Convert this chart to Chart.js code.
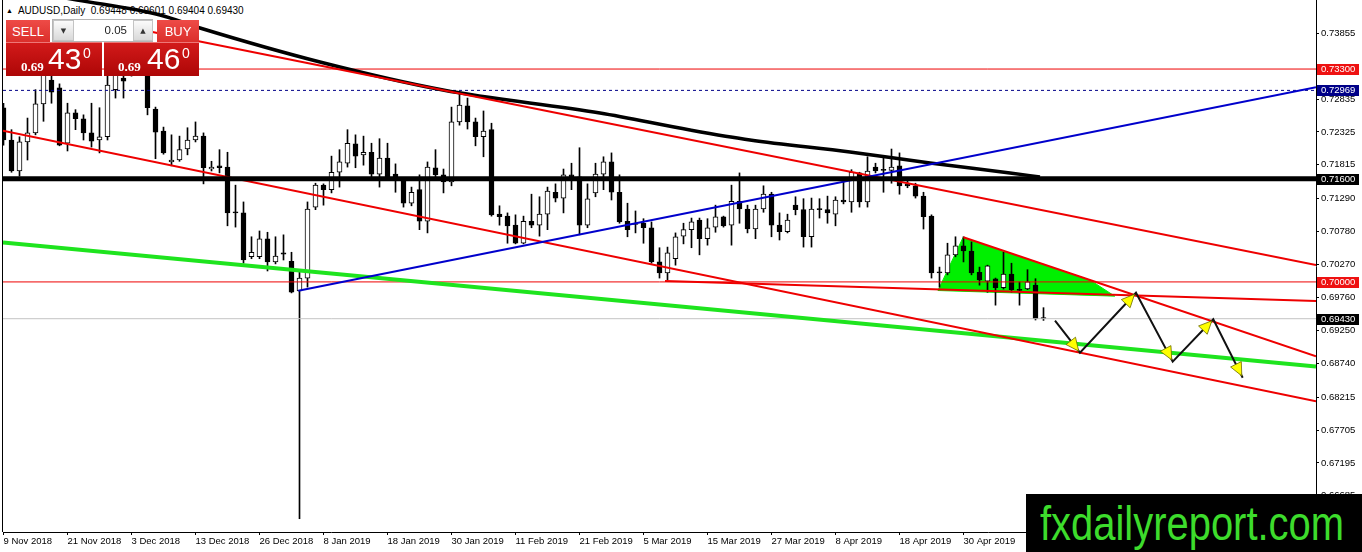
<!DOCTYPE html>
<html><head><meta charset="utf-8">
<script src="https://cdn.jsdelivr.net/npm/chart.js@4.4.1/dist/chart.umd.min.js"></script>
<style>
html,body{margin:0;padding:0;background:#fff;overflow:hidden;}
#wrap{position:relative;width:1362px;height:552px;}
#hdr{position:absolute;left:6px;top:3.5px;font:10px "Liberation Sans",Arial,sans-serif;color:#000;white-space:nowrap;z-index:0;line-height:14px;}
#hdr .tri{font-size:7px;margin-right:5px;position:relative;top:-1px;}
#c{position:absolute;left:0;top:0;z-index:1;}
#panel{position:absolute;left:0;top:0;z-index:2;}
.bx{position:absolute;box-sizing:border-box;}
.btn{background:linear-gradient(#ee4b47,#db2f2b);color:#fff;font:13px "Liberation Sans Narrow","Liberation Sans",sans-serif;display:flex;align-items:center;justify-content:center;}
.price{background:linear-gradient(#d21a1a,#ad0606);color:#fff;border-top:1px solid #e77;}
.price span{position:absolute;white-space:nowrap;}
.p1{font:bold 13px "Liberation Serif",serif;line-height:13px;}
.p2{font:30px "Liberation Sans",sans-serif;line-height:30px;}
.p3{font:14px "Liberation Sans",sans-serif;line-height:14px;}
.lot{background:#eee;border:1px solid #b5b5b5;}
.arr{background:linear-gradient(#fbfbfb,#d9d9d9);border:1px solid #c4c4c4;font:7px "DejaVu Sans",sans-serif;color:#333;display:flex;align-items:center;justify-content:center;}
.fld{background:#fff;font:11.5px "Liberation Sans",sans-serif;color:#222;text-align:right;padding-right:6px;line-height:21px;}
#wm{position:absolute;left:1026px;top:494px;width:336px;height:58px;background:#000;z-index:3;overflow:hidden;}
#wmt{position:absolute;left:14px;top:6.4px;font:48px "Liberation Sans Narrow","Liberation Sans",sans-serif;line-height:48px;color:#3ddc2c;white-space:nowrap;transform-origin:0 0;display:inline-block;}
</style></head>
<body><div id="wrap">
<div id="hdr"><span class="tri">▲</span>AUDUSD,Daily&nbsp; 0.69448 0.69601 0.69404 0.69430</div>
<canvas id="c" width="1362" height="552"></canvas>
<div id="panel">
  <div class="bx btn" style="left:6px;top:20px;width:44px;height:22px;">SELL</div>
  <div class="bx lot" style="left:52px;top:19px;width:101px;height:23px;"></div>
  <div class="bx arr" style="left:53px;top:20px;width:21px;height:21px;">▼</div>
  <div class="bx fld" style="left:74px;top:20px;width:59px;height:21px;">0.05</div>
  <div class="bx arr" style="left:133px;top:20px;width:20px;height:21px;">▲</div>
  <div class="bx btn" style="left:157px;top:20px;width:42px;height:22px;">BUY</div>
  <div class="bx price" style="left:6px;top:42px;width:96px;height:34px;">
    <span class="p1" style="left:15px;top:16.5px;">0.69</span>
    <span class="p2" style="left:42px;top:0.5px;">43</span>
    <span class="p3" style="left:77px;top:2.5px;">0</span>
  </div>
  <div class="bx price" style="left:104px;top:42px;width:95px;height:34px;">
    <span class="p1" style="left:14px;top:16.5px;">0.69</span>
    <span class="p2" style="left:43px;top:0.5px;">46</span>
    <span class="p3" style="left:78px;top:2.5px;">0</span>
  </div>
</div>
<div id="wm"><span id="wmt">fxdailyreport.com</span></div>
</div>
<script>
// ---------- data ----------
const xTickIdx = [0,8,16,24,32,40,48,56,64,72,80,88,96,104,112,120];
const xTickLabels = ["9 Nov 2018","21 Nov 2018","3 Dec 2018","13 Dec 2018","26 Dec 2018","8 Jan 2019","18 Jan 2019","30 Jan 2019","11 Feb 2019","21 Feb 2019","5 Mar 2019","15 Mar 2019","27 Mar 2019","8 Apr 2019","18 Apr 2019","30 Apr 2019"];
const yTicks = [0.73855,0.72835,0.72325,0.71815,0.71290,0.70780,0.70270,0.69760,0.69250,0.68740,0.68215,0.67705,0.67195,0.66685];

const opens = [.7270,.7220,.7172,.7217,.7231,.7276,.7313,.7301,.7215,.7262,.7253,.7231,.7220,.7225,.7298,.7316,.7329,.7350,.7332,.7268,
.7234,.7186,.7189,.7206,.7220,.7226,.7175,.7180,.7178,.7108,.7107,.7039,.7039,.7067,.7031,.7045,.7032,.6986,.7006,.7116,
.7150,.7143,.7170,.7184,.7214,.7197,.7201,.7167,.7192,.7167,.7158,.7122,.7143,.7094,.7177,.7166,.7155,.7248,.7273,.7248,
.7225,.7236,.7105,.7102,.7088,.7060,.7094,.7088,.7105,.7139,.7130,.7166,.7163,.7088,.7138,.7167,.7186,.7139,.7094,.7090,
.7091,.7084,.7031,.7014,.7036,.7071,.7081,.7096,.7067,.7085,.7101,.7088,.7125,.7113,.7082,.7113,.7136,.7088,.7078,.7119,
.7112,.7070,.7113,.7112,.7105,.7127,.7124,.7169,.7124,.7178,.7174,.7173,.7180,.7152,.7149,.7133,.7102,.7015,.7014,.7042,
.7056,.7048,.7015,.7001,.7005,.6991,.7012,.6988,.6989,.6995,.69448];
const highs = [.7277,.7236,.7225,.7254,.7298,.7341,.7322,.7307,.7277,.7267,.7259,.7277,.7270,.7322,.7336,.7332,.7367,.7375,.7341,.7271,
.7240,.7228,.7226,.7239,.7248,.7231,.7187,.7205,.7201,.7150,.7124,.7070,.7079,.7077,.7070,.7073,.7046,.7019,.7124,.7153,
.7152,.7195,.7205,.7236,.7228,.7226,.7215,.7222,.7215,.7183,.7161,.7147,.7166,.7186,.7205,.7175,.7271,.7293,.7285,.7254,
.7265,.7246,.7118,.7107,.7104,.7102,.7136,.7132,.7147,.7152,.7175,.7184,.7208,.7152,.7184,.7194,.7200,.7166,.7122,.7110,
.7098,.7093,.7053,.7054,.7076,.7091,.7099,.7099,.7098,.7119,.7102,.7150,.7169,.7119,.7119,.7149,.7139,.7107,.7105,.7132,
.7129,.7130,.7129,.7133,.7132,.7155,.7174,.7170,.7194,.7184,.7192,.7206,.7200,.7158,.7153,.7139,.7104,.7023,.7060,.7070,
.7070,.7062,.7023,.7026,.7006,.7046,.7029,.7000,.7019,.7005,.69601];
const lows = [.7212,.7170,.7164,.7189,.7228,.7249,.7277,.7211,.7203,.7236,.7220,.7209,.7200,.7220,.7285,.7285,.7319,.7322,.7259,.7191,
.7198,.7180,.7187,.7197,.7217,.7152,.7172,.7169,.7087,.7085,.7029,.7036,.7036,.7017,.7028,.7034,.6983,.6633,.6992,.7112,
.7119,.7138,.7147,.7178,.7177,.7181,.7163,.7147,.7158,.7139,.7116,.7118,.7081,.7076,.7163,.7138,.7149,.7243,.7237,.7211,
.7194,.7102,.7088,.7060,.7059,.7059,.7084,.7071,.7081,.7124,.7107,.7143,.7073,.7084,.7132,.7143,.7127,.7091,.7070,.7076,
.7060,.7029,.7006,.7003,.7026,.7059,.7053,.7042,.7057,.7077,.7085,.7057,.7091,.7076,.7067,.7108,.7070,.7065,.7076,.7104,
.7054,.7054,.7099,.7091,.7087,.7121,.7108,.7116,.7116,.7169,.7139,.7153,.7136,.7146,.7130,.7082,.7006,.6992,.7011,.7039,
.7031,.7011,.6995,.6984,.6964,.6989,.6984,.6964,.6988,.6941,.69404];
const closes = [.7220,.7172,.7217,.7231,.7276,.7325,.7294,.7212,.7262,.7253,.7231,.7218,.7225,.7305,.7325,.7311,.7352,.7335,.7270,.7232,
.7200,.7189,.7205,.7220,.7226,.7177,.7178,.7177,.7107,.7107,.7034,.7046,.7067,.7031,.7040,.7043,.6984,.7006,.7113,.7150,
.7143,.7170,.7186,.7215,.7195,.7201,.7167,.7192,.7161,.7163,.7122,.7139,.7094,.7178,.7166,.7155,.7248,.7274,.7248,.7225,
.7234,.7104,.7101,.7087,.7060,.7094,.7088,.7105,.7141,.7130,.7166,.7163,.7088,.7129,.7167,.7186,.7139,.7093,.7081,.7089,
.7084,.7031,.7014,.7045,.7070,.7081,.7093,.7067,.7084,.7101,.7087,.7125,.7113,.7082,.7113,.7136,.7088,.7078,.7096,.7112,
.7070,.7113,.7112,.7107,.7127,.7124,.7170,.7124,.7172,.7172,.7173,.7178,.7149,.7149,.7133,.7101,.7014,.7014,.7042,.7056,
.7048,.7014,.7003,.7025,.6991,.7012,.6988,.6987,.7000,.6943,.69430];

// moving average (read at a few bar positions)
const maIdx = [-0.0625,9.19,19.56,24.56,39.56,54.94,74.56,85.81,93.31,105.81,115.81,125.81,129.56];
const maVal = [0.7457,0.7437,0.74138,0.73936,0.73409,0.72975,0.72619,0.72355,0.72200,0.72014,0.71844,0.71689,0.71627];

// horizontal levels
const levelRed = [0.73300, 0.70000];
const levelBlueDash = 0.72969;
const levelBlack = 0.71600;
const levelBid = 0.69430;

// trend lines: [x0, x1] bar index, [y0, y1] price
const X_MIN = -0.0625, X_MAX = 164.0625;
const redUpX = [18.31, X_MAX], redUpY = [0.73882, 0.70263];
const redLowX = [X_MIN, X_MAX], redLowY = [0.72344, 0.68151];
const redFlatX = [82.69, X_MAX], redFlatY = [0.70015, 0.69705];
const redTriX = [119.98, X_MAX], redTriY = [0.70692, 0.68847];
const blueX = [36.85, X_MAX], blueY = [0.69864, 0.73017];
const greenX = [X_MIN, X_MAX], greenY = [0.70612, 0.68689];
const triX = [119.94, 135.81, 138.9, 116.81, 119.94];
const triY = [0.70689, 0.70030, 0.69780, 0.69867, 0.70689];
const arrowX = [131.44, 134.56, 141.56, 146.15, 151.22, 154.90];
const arrowY = [0.69399, 0.68903, 0.69833, 0.68764, 0.69421, 0.68516];

// highlighted price labels on the axis
const hlValues = [0.73300, 0.72969, 0.71600, 0.70000, 0.69430];
const hlBg = ['#ee1111', '#000088', '#000000', '#ee1111', '#000000'];

const Y_MIN = 0.66124, Y_MAX = 0.7437;

// ---------- build ----------
const seg = (xs, ys) => xs.map((x, i) => ({x, y: ys[i]}));
const hline = v => [{x: X_MIN, y: v}, {x: X_MAX, y: v}];
const lineDs = (data, color, width, order, extra) => Object.assign({
  type: 'line', data, borderColor: color, borderWidth: width, pointRadius: 0,
  pointHoverRadius: 0, fill: false, tension: 0, order
}, extra || {});

const wickData = opens.map((o, i) => ({x: i, y: [lows[i], highs[i]]}));
const bodyData = opens.map((o, i) => ({x: i, y: [o, closes[i]]}));
const bodyFill = opens.map((o, i) => closes[i] > o ? '#ffffff' : '#000000');

const RED = '#ee0000';

const datasets = [
  lineDs(seg(triX, triY), '#00f000', 1, 30, {fill: 'shape', backgroundColor: '#00f000'}),
  {type: 'bar', data: wickData, backgroundColor: '#000', borderWidth: 0, barThickness: 1, grouped: false, order: 21},
  {type: 'bar', data: bodyData, backgroundColor: bodyFill, borderColor: '#000', borderWidth: 1,
   borderSkipped: false, barThickness: 5, minBarLength: 1, grouped: false, order: 20},
  lineDs(hline(levelBid), '#c4c4c4', 1, 12),
  lineDs(hline(levelBlueDash), '#000088', 1, 11, {borderDash: [3, 3]}),
  lineDs(hline(levelRed[0]), RED, 1, 10),
  lineDs(hline(levelRed[1]), RED, 1, 10),
  lineDs(seg(greenX, greenY), '#1ee41e', 4, 9),
  lineDs(seg(maIdx, maVal), '#000000', 3.5, 8, {cubicInterpolationMode: 'monotone'}),
  lineDs(seg(redUpX, redUpY), RED, 2, 7),
  lineDs(seg(redLowX, redLowY), RED, 2, 7),
  lineDs(seg(redFlatX, redFlatY), RED, 2, 7),
  lineDs(seg(redTriX, redTriY), RED, 2, 7),
  lineDs(seg(blueX, blueY), '#0000cc', 2, 6),
  lineDs(hline(levelBlack), '#000000', 5, 5),
  lineDs(seg(arrowX, arrowY), '#111111', 2, 1)
];

const extrasPlugin = {
  id: 'extras',
  afterDatasetsDraw(chart) {
    const c = chart.ctx, xs = chart.scales.x, ys = chart.scales.y;
    c.save();
    for (let k = 1; k < arrowX.length; k++) {
      const x0 = xs.getPixelForValue(arrowX[k-1]), y0 = ys.getPixelForValue(arrowY[k-1]);
      const x1 = xs.getPixelForValue(arrowX[k]), y1 = ys.getPixelForValue(arrowY[k]);
      const a = Math.atan2(y1 - y0, x1 - x0);
      const tx = x1 - Math.cos(a) * 2, ty = y1 - Math.sin(a) * 2;
      const L = 13, W = 6;
      const bx = tx - Math.cos(a) * L, by = ty - Math.sin(a) * L;
      c.beginPath();
      c.moveTo(tx, ty);
      c.lineTo(bx + Math.sin(a) * W, by - Math.cos(a) * W);
      c.lineTo(bx - Math.sin(a) * W, by + Math.cos(a) * W);
      c.closePath();
      c.fillStyle = '#ffff00'; c.fill();
      c.strokeStyle = '#6a6a00'; c.lineWidth = 0.8; c.stroke();
    }
    c.restore();
  },
  afterDraw(chart) {
    const c = chart.ctx, ys = chart.scales.y, ca = chart.chartArea;
    c.save();
    c.strokeStyle = '#000'; c.lineWidth = 1;
    c.beginPath(); c.moveTo(ca.left - 0.5, 0); c.lineTo(ca.left - 0.5, ca.bottom); c.stroke();
    c.font = '9.5px "Liberation Sans", Arial, sans-serif';
    c.textBaseline = 'middle'; c.textAlign = 'left';
    hlValues.forEach((v, i) => {
      const y = Math.round(ys.getPixelForValue(v));
      c.fillStyle = hlBg[i];
      c.fillRect(ca.right + 1, y - 5, 42, 11);
      c.fillStyle = '#ffffff';
      c.fillText(v.toFixed(5), ca.right + 5, y + 0.5);
    });
    c.restore();
  }
};

new Chart(document.getElementById('c'), {
  type: 'bar',
  data: {datasets},
  plugins: [extrasPlugin],
  options: {
    responsive: false, animation: false, devicePixelRatio: 1,
    layout: {padding: {left: 3, top: 0, right: 0, bottom: 0}},
    plugins: {legend: {display: false}, tooltip: {enabled: false}},
    events: [],
    scales: {
      x: {
        type: 'linear', min: X_MIN, max: X_MAX, offset: false,
        grid: {display: true, drawOnChartArea: false, drawTicks: true, tickLength: 3, color: '#000', offset: false},
        border: {display: true, color: '#000', width: 1},
        afterBuildTicks: s => { s.ticks = xTickIdx.map(v => ({value: v})); },
        afterFit: s => { s.height = 20; s.paddingLeft = 0; s.paddingRight = 0; },
        ticks: {
          autoSkip: false, maxRotation: 0, minRotation: 0, align: 'start', padding: 1,
          color: '#000', font: {family: 'Liberation Sans', size: 9.5},
          callback: (v, i) => xTickLabels[i]
        }
      },
      y: {
        type: 'linear', position: 'right', min: Y_MIN, max: Y_MAX, beginAtZero: false,
        grid: {display: true, drawOnChartArea: false, drawTicks: true, tickLength: 3, color: '#000'},
        border: {display: true, color: '#000', width: 1},
        afterBuildTicks: s => { s.ticks = yTicks.map(v => ({value: v})); },
        afterFit: s => { s.width = 46; s.paddingTop = 0; s.paddingBottom = 0; },
        ticks: {
          padding: 2, color: '#000', font: {family: 'Liberation Sans', size: 9.5},
          callback: v => Number(v).toFixed(5)
        }
      }
    }
  }
});

// fit watermark text width
const wm = document.getElementById('wmt');
const w = wm.getBoundingClientRect().width;
if (w > 0) wm.style.transform = 'scaleX(' + (304 / w) + ')';
</script>
</body></html>
